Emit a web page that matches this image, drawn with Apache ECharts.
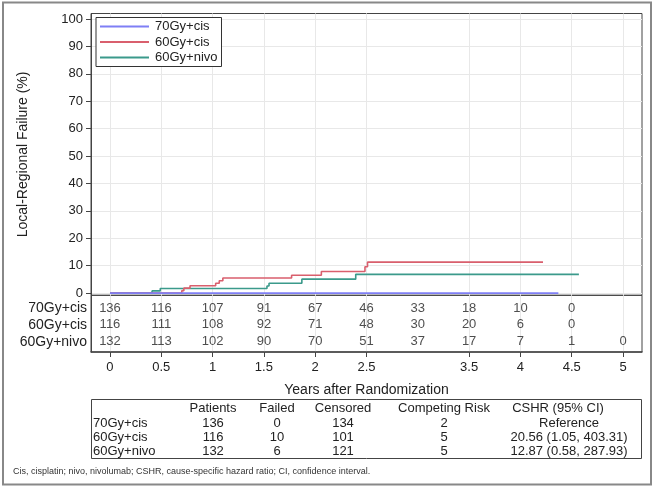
<!DOCTYPE html>
<html>
<head>
<meta charset="utf-8">
<script src="https://cdn.jsdelivr.net/npm/echarts@6/dist/echarts.min.js"></script>
<style>
  html, body { margin: 0; padding: 0; background: #fff; }
  #chart { width: 656px; height: 488px; }
</style>
</head>
<body>
<div id="chart"></div>
<script>
// Treatment arms
const groups = ['70Gy+cis', '60Gy+cis', '60Gy+nivo'];
const colors = ['#7f7ff5', '#d95f6d', '#3b9a8b'];

// Cumulative incidence of local-regional failure (%), step points [years, %]
const cif70cis = [[0, 0], [4.37, 0]];
const cif60cis = [[0, 0], [0.70, 0.9], [0.72, 1.8], [0.78, 2.7], [1.03, 3.6], [1.065, 4.5], [1.10, 5.5],
                  [1.77, 6.5], [2.06, 7.9], [2.485, 9.6], [2.51, 11.3], [4.22, 11.3]];
const cif60nivo = [[0, 0], [0.41, 0.8], [0.49, 1.7], [1.53, 2.6], [1.55, 3.6], [1.87, 5.1],
                   [2.395, 6.85], [4.57, 6.85]];

// Numbers at risk
const riskTimes = [0, 0.5, 1, 1.5, 2, 2.5, 3, 3.5, 4, 4.5, 5];
const risk70cis = [136, 116, 107, 91, 67, 46, 33, 18, 10, 0, null];
const risk60cis = [116, 111, 108, 92, 71, 48, 30, 20, 6, 0, null];
const risk60nivo = [132, 113, 102, 90, 70, 51, 37, 17, 7, 1, 0];

// Axis ticks
const xTicks = [0, 0.5, 1, 1.5, 2, 2.5, 3.5, 4, 4.5, 5];
const yTicks = [0, 10, 20, 30, 40, 50, 60, 70, 80, 90, 100];

// Summary table
const tableHeader = ['Patients', 'Failed', 'Censored', 'Competing Risk', 'CSHR (95% CI)'];
const tablePatients = [136, 116, 132];
const tableFailed = [0, 10, 6];
const tableCensored = [134, 101, 121];
const tableCompeting = [2, 5, 5];
const tableCSHR = ['Reference', '20.56 (1.05, 403.31)', '12.87 (0.58, 287.93)'];

const footnote = 'Cis, cisplatin; nivo, nivolumab; CSHR, cause-specific hazard ratio; CI, confidence interval.';

const FONT = '"Liberation Sans", Arial, sans-serif';
const TXT = '#222';
const GRID_LINE = '#e8e8e8';
const FRAME = '#444';

const curves = [cif70cis, cif60cis, cif60nivo];
const risks = [risk70cis, risk60cis, risk60nivo];

const series = [];
curves.forEach((d, i) => {
  series.push({
    name: groups[i],
    type: 'line',
    xAxisIndex: 0, yAxisIndex: 0,
    step: 'end',
    symbol: 'none',
    data: d,
    lineStyle: { color: colors[i], width: 1.6 },
    itemStyle: { color: colors[i] },
    z: 3 - i
  });
});
risks.forEach((r, i) => {
  const pts = [];
  r.forEach((v, k) => { if (v !== null) pts.push([riskTimes[k], i, v]); });
  series.push({
    name: 'risk-' + i,
    type: 'scatter',
    xAxisIndex: 1, yAxisIndex: 1,
    symbolSize: 0.1,
    itemStyle: { color: 'rgba(0,0,0,0)' },
    silent: true,
    data: pts,
    label: {
      show: true, position: 'inside',
      formatter: p => String(p.value[2]),
      fontFamily: FONT, fontSize: 13, color: TXT
    }
  });
});

// Summary table as text
const graphics = [];
const colX = [213, 277, 343, 444, 558];
const rowY = [423, 437, 451];
tableHeader.forEach((h, j) => {
  graphics.push({ type: 'text', x: colX[j], y: 408,
    style: { text: h, font: '13px ' + FONT, fill: TXT, textAlign: 'center', textVerticalAlign: 'middle' } });
});
const tableCols = [tablePatients, tableFailed, tableCensored, tableCompeting];
groups.forEach((g, i) => {
  graphics.push({ type: 'text', x: 93, y: rowY[i],
    style: { text: g, font: '13px ' + FONT, fill: TXT, textAlign: 'left', textVerticalAlign: 'middle' } });
  tableCols.forEach((col, j) => {
    graphics.push({ type: 'text', x: colX[j], y: rowY[i],
      style: { text: String(col[i]), font: '13px ' + FONT, fill: TXT, textAlign: 'center', textVerticalAlign: 'middle' } });
  });
  graphics.push({ type: 'text', x: 569, y: rowY[i],
    style: { text: tableCSHR[i], font: '13px ' + FONT, fill: TXT, textAlign: 'center', textVerticalAlign: 'middle' } });
});
graphics.push({ type: 'rect', shape: { x: 91.5, y: 399.5, width: 550, height: 59 },
  style: { fill: 'none', stroke: FRAME, lineWidth: 1 } });
graphics.push({ type: 'text', x: 13, y: 472,
  style: { text: footnote, font: '9px ' + FONT, fill: '#333', textAlign: 'left', textVerticalAlign: 'middle' } });
// outer frame
graphics.push({ type: 'rect', shape: { x: 3, y: 2.5, width: 648, height: 482 },
  style: { fill: 'none', stroke: '#888', lineWidth: 2 } });

const option = {
  animation: false,
  backgroundColor: '#fff',
  textStyle: { fontFamily: FONT },
  grid: [
    { left: 91, right: 14, top: 13.5, height: 281.8, show: true, borderColor: FRAME, borderWidth: 1 },
    { left: 91, right: 14, top: 295.3, height: 56.7, show: true, borderColor: FRAME, borderWidth: 1 }
  ],
  legend: {
    data: groups,
    orient: 'vertical',
    left: 96, top: 17.5,
    icon: 'rect',
    itemWidth: 49, itemHeight: 2,
    itemGap: 1.5,
    padding: [2, 4, 2, 4],
    borderColor: '#333', borderWidth: 1,
    backgroundColor: '#fff',
    textStyle: { fontFamily: FONT, fontSize: 13, color: TXT, lineHeight: 14, padding: [0, 0, 0, 1] }
  },
  xAxis: [
    {
      gridIndex: 0, type: 'value', min: -0.185, max: 5.185,
      axisLine: { show: false, onZero: false },
      axisTick: { show: false, customValues: xTicks },
      axisLabel: { show: false, customValues: xTicks },
      splitLine: { show: true, lineStyle: { color: GRID_LINE, width: 1 } }
    },
    {
      gridIndex: 1, type: 'value', min: -0.185, max: 5.185,
      axisLine: { show: true, onZero: false, lineStyle: { color: FRAME, width: 1.5 } },
      axisTick: { show: true, length: 5, customValues: xTicks, lineStyle: { color: FRAME } },
      axisLabel: { show: true, customValues: xTicks, margin: 9, fontFamily: FONT, fontSize: 13, color: TXT },
      splitLine: { show: true, lineStyle: { color: GRID_LINE, width: 1 } },
      name: 'Years after Randomization',
      nameLocation: 'middle', nameGap: 31,
      nameTextStyle: { fontFamily: FONT, fontSize: 14, color: TXT }
    }
  ],
  yAxis: [
    {
      gridIndex: 0, type: 'value', min: -0.8, max: 102,
      axisLine: { show: true, onZero: false, lineStyle: { color: FRAME, width: 1 } },
      axisTick: { show: true, length: 5, customValues: yTicks, lineStyle: { color: FRAME } },
      axisLabel: { customValues: yTicks, margin: 8, fontFamily: FONT, fontSize: 13, color: TXT },
      splitLine: { show: true, lineStyle: { color: GRID_LINE, width: 1 } },
      name: 'Local-Regional Failure (%)',
      nameLocation: 'middle', nameRotate: 90, nameGap: 61,
      nameTextStyle: { fontFamily: FONT, fontSize: 14, color: TXT }
    },
    {
      gridIndex: 1, type: 'value', inverse: true, min: -0.75, max: 2.61,
      axisLine: { show: true, onZero: false, lineStyle: { color: FRAME, width: 1 } },
      axisTick: { show: false, customValues: [0, 1, 2] },
      axisLabel: { customValues: [0, 1, 2], margin: 4, formatter: v => groups[Math.round(v)],
        fontFamily: FONT, fontSize: 14, color: TXT },
      splitLine: { show: false }
    }
  ],
  series: series,
  graphic: graphics
};

const chart = echarts.init(document.getElementById('chart'), null, { renderer: 'canvas' });
chart.setOption(option);
</script>
</body>
</html>
